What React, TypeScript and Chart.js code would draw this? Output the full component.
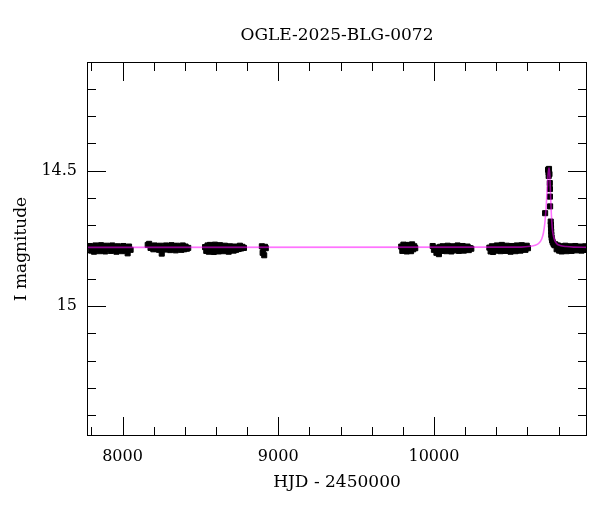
import React, { useEffect, useRef } from "react";
import { Chart, registerables } from "chart.js";
Chart.register(...registerables);

const TITLE = "OGLE-2025-BLG-0072";
const X_LABEL = "HJD - 2450000";
const Y_LABEL = "I magnitude";
const X_MIN = 7772;
const X_MAX = 10983;
const Y_MIN = 14.1;
const Y_MAX = 15.478;
const X_MAJOR = [8000, 9000, 10000];
const X_MINOR = [7800, 8200, 8400, 8600, 8800, 9200, 9400, 9600, 9800, 10200, 10400, 10600, 10800];
const Y_MAJOR = [14.5, 15];
const Y_MINOR = [14.2, 14.3, 14.4, 14.6, 14.7, 14.8, 14.9, 15.1, 15.2, 15.3, 15.4];

// Observing seasons (HJD - 2450000, I mag)
const S1_HJD = [7790, 7799, 7808, 7817, 7826, 7835, 7844, 7853, 7862, 7871, 7880, 7889, 7898, 7907, 7916, 7925, 7934, 7943, 7952, 7961, 7970, 7979, 7988, 7997, 8006, 8015, 8024, 8033, 8042, 8052];
const S1_MAG = [14.778, 14.795, 14.782, 14.799, 14.776, 14.790, 14.784, 14.797, 14.775, 14.792, 14.780, 14.798, 14.777, 14.789, 14.783, 14.796, 14.776, 14.793, 14.781, 14.799, 14.779, 14.791, 14.785, 14.797, 14.778, 14.794, 14.782, 14.805, 14.780, 14.792];

const S2_HJD = [8162, 8171, 8180, 8189, 8198, 8207, 8216, 8225, 8234, 8243, 8252, 8261, 8270, 8279, 8288, 8297, 8306, 8315, 8324, 8333, 8342, 8351, 8360, 8369, 8378, 8387, 8396, 8405, 8414, 8422];
const S2_MAG = [14.774, 14.770, 14.785, 14.778, 14.790, 14.776, 14.788, 14.780, 14.792, 14.777, 14.806, 14.784, 14.791, 14.776, 14.789, 14.781, 14.793, 14.775, 14.788, 14.779, 14.794, 14.777, 14.787, 14.782, 14.792, 14.776, 14.790, 14.780, 14.788, 14.785];

const S3_HJD = [8530, 8538, 8546, 8554, 8562, 8570, 8578, 8586, 8594, 8602, 8610, 8618, 8626, 8634, 8642, 8650, 8658, 8666, 8674, 8682, 8690, 8698, 8706, 8714, 8722, 8730, 8738, 8746, 8754, 8762, 8770, 8780];
const S3_MAG = [14.782, 14.796, 14.776, 14.799, 14.774, 14.793, 14.780, 14.800, 14.773, 14.795, 14.778, 14.798, 14.775, 14.791, 14.781, 14.797, 14.777, 14.793, 14.784, 14.799, 14.779, 14.790, 14.786, 14.795, 14.780, 14.792, 14.784, 14.789, 14.777, 14.787, 14.781, 14.785];

const S4_HJD = [8895, 8900, 8905, 8910, 8915, 8920];
const S4_MAG = [14.779, 14.803, 14.788, 14.812, 14.781, 14.786];

const S5_HJD = [9790, 9797, 9804, 9811, 9818, 9825, 9832, 9839, 9846, 9853, 9860, 9867, 9874, 9880];
const S5_MAG = [14.780, 14.796, 14.773, 14.792, 14.776, 14.798, 14.774, 14.794, 14.778, 14.797, 14.772, 14.790, 14.779, 14.786];

const S6_HJD = [9992, 10000, 10008, 10016, 10024, 10032, 10040, 10048, 10056, 10064, 10072, 10080, 10088, 10096, 10104, 10112, 10120, 10128, 10136, 10144, 10152, 10160, 10168, 10176, 10184, 10192, 10200, 10208, 10216, 10224, 10232, 10240];
const S6_MAG = [14.778, 14.792, 14.784, 14.803, 14.788, 14.808, 14.781, 14.796, 14.779, 14.793, 14.783, 14.797, 14.777, 14.791, 14.785, 14.798, 14.779, 14.794, 14.782, 14.790, 14.776, 14.796, 14.784, 14.792, 14.778, 14.795, 14.783, 14.789, 14.780, 14.793, 14.786, 14.788];

const S7_HJD = [10356, 10364, 10372, 10380, 10388, 10396, 10404, 10412, 10420, 10428, 10436, 10444, 10452, 10460, 10468, 10476, 10484, 10492, 10500, 10508, 10516, 10524, 10532, 10540, 10548, 10556, 10564, 10572, 10580, 10588, 10596, 10604];
const S7_MAG = [14.784, 14.798, 14.779, 14.800, 14.783, 14.795, 14.776, 14.793, 14.782, 14.797, 14.774, 14.790, 14.781, 14.796, 14.777, 14.792, 14.785, 14.799, 14.778, 14.791, 14.783, 14.797, 14.776, 14.793, 14.782, 14.795, 14.775, 14.789, 14.780, 14.792, 14.777, 14.786];

const S8_HJD = [10714, 10733, 10736, 10739, 10742, 10737, 10744, 10745, 10745, 10746, 10750, 10751, 10752, 10753, 10754, 10756, 10759, 10763, 10768, 10774,
  10780, 10788, 10796, 10804, 10812, 10820, 10828, 10836, 10844, 10852, 10860, 10868, 10876, 10884, 10892, 10900, 10908, 10916, 10924, 10932, 10940, 10948, 10956, 10964, 10972, 10980];
const S8_MAG = [14.657, 14.497, 14.506, 14.494, 14.513, 14.520, 14.546, 14.568, 14.596, 14.632, 14.688, 14.700, 14.712, 14.725, 14.737, 14.748, 14.757, 14.764, 14.770, 14.775,
  14.772, 14.790, 14.776, 14.795, 14.779, 14.798, 14.781, 14.793, 14.777, 14.797, 14.783, 14.791, 14.779, 14.796, 14.784, 14.790, 14.778, 14.794, 14.782, 14.788, 14.780, 14.795, 14.785, 14.791, 14.779, 14.787];

// Model light curve
const MODEL_HJD = [7772, 10560, 10620, 10650, 10675, 10692, 10703, 10712, 10720, 10728, 10734, 10739, 10744, 10749, 10754, 10760, 10768, 10778, 10790, 10810, 10850, 10900, 10983];
const MODEL_MAG = [14.783, 14.782, 14.779, 14.775, 14.767, 14.752, 14.730, 14.695, 14.640, 14.565, 14.510, 14.490, 14.515, 14.590, 14.660, 14.712, 14.742, 14.760, 14.770, 14.776, 14.780, 14.782, 14.783];

const SEASONS = [
  [S1_HJD, S1_MAG], [S2_HJD, S2_MAG], [S3_HJD, S3_MAG], [S4_HJD, S4_MAG],
  [S5_HJD, S5_MAG], [S6_HJD, S6_MAG], [S7_HJD, S7_MAG], [S8_HJD, S8_MAG],
];

const FONT = "'DejaVu Serif', 'Liberation Serif', serif";

const frameTicks = {
  id: "frameTicks",
  afterDatasetsDraw(chart: any) {
    const { ctx, chartArea: a, scales } = chart;
    const xs = scales.x;
    const ys = scales.y;
    ctx.save();
    ctx.strokeStyle = "#000";
    ctx.lineWidth = 1;
    ctx.strokeRect(a.left + 0.5, a.top + 0.5, a.right - a.left - 1, a.bottom - a.top - 1);
    ctx.beginPath();
    const xt = (vals: number[], len: number) => {
      vals.forEach((v) => {
        const p = Math.round(xs.getPixelForValue(v)) + 0.5;
        ctx.moveTo(p, a.bottom);
        ctx.lineTo(p, a.bottom - len);
        ctx.moveTo(p, a.top);
        ctx.lineTo(p, a.top + len);
      });
    };
    const yt = (vals: number[], len: number) => {
      vals.forEach((v) => {
        const p = Math.round(ys.getPixelForValue(v)) + 0.5;
        ctx.moveTo(a.left, p);
        ctx.lineTo(a.left + len, p);
        ctx.moveTo(a.right, p);
        ctx.lineTo(a.right - len, p);
      });
    };
    xt(X_MAJOR, 19);
    xt(X_MINOR, 9);
    yt(Y_MAJOR, 19);
    yt(Y_MINOR, 9);
    ctx.stroke();
    ctx.restore();
  },
};

export default function App() {
  const ref = useRef<HTMLCanvasElement | null>(null);
  useEffect(() => {
    if (!ref.current) return;
    const points: { x: number; y: number }[] = [];
    SEASONS.forEach(([h, m]) => {
      h.forEach((x, i) => points.push({ x, y: m[i] }));
    });
    const model = MODEL_HJD.map((x, i) => ({ x, y: MODEL_MAG[i] }));
    const chart = new Chart(ref.current, {
      type: "scatter",
      data: {
        datasets: [
          {
            label: "model",
            data: model,
            showLine: true,
            pointRadius: 0,
            borderColor: "rgba(255,0,255,0.55)",
            borderWidth: 1.6,
            cubicInterpolationMode: "monotone",
            fill: false,
          } as any,
          {
            label: "OGLE",
            data: points,
            pointStyle: "rect",
            pointRadius: 3.6,
            backgroundColor: "#000",
            borderColor: "#000",
            borderWidth: 1,
          } as any,
        ],
      },
      options: {
        responsive: false,
        animation: false,
        devicePixelRatio: 1,
        layout: { padding: { left: 0, right: 13, top: 0, bottom: 0 } },
        plugins: {
          legend: { display: false },
          tooltip: { enabled: false },
          title: {
            display: true,
            text: TITLE,
            fullSize: false,
            color: "#000",
            font: { family: FONT, size: 17, weight: "normal" },
            padding: { top: 25, bottom: 16.6 },
          },
        },
        scales: {
          x: {
            type: "linear",
            min: X_MIN,
            max: X_MAX,
            grid: { display: false, drawTicks: false },
            border: { display: false },
            afterBuildTicks: (s: any) => {
              s.ticks = X_MAJOR.map((v) => ({ value: v }));
            },
            afterFit: (s: any) => {
              s.height = 76;
            },
            ticks: {
              color: "#000",
              padding: 11,
              font: { family: FONT, size: 16 },
              callback: (v: any) => String(v),
              maxRotation: 0,
              autoSkip: false,
            },
            title: {
              display: true,
              text: X_LABEL,
              color: "#000",
              font: { family: FONT, size: 17 },
              padding: { top: 0, bottom: 19 },
            },
          },
          y: {
            type: "linear",
            reverse: true,
            min: Y_MIN,
            max: Y_MAX,
            grid: { display: false, drawTicks: false },
            border: { display: false },
            afterBuildTicks: (s: any) => {
              s.ticks = Y_MAJOR.map((v) => ({ value: v }));
            },
            afterFit: (s: any) => {
              s.width = 87;
            },
            ticks: {
              color: "#000",
              padding: 10,
              font: { family: FONT, size: 16 },
              callback: (v: any) => String(v),
              autoSkip: false,
            },
            title: {
              display: true,
              text: Y_LABEL,
              color: "#000",
              font: { family: FONT, size: 17 },
              padding: { top: 11.5, bottom: 0 },
            },
          },
        },
      },
      plugins: [frameTicks],
    });
    return () => chart.destroy();
  }, []);
  return (
    <canvas
      ref={ref}
      width={600}
      height={512}
      style={{ position: "fixed", left: 0, top: 0, width: 600, height: 512, background: "#fff" }}
    />
  );
}
